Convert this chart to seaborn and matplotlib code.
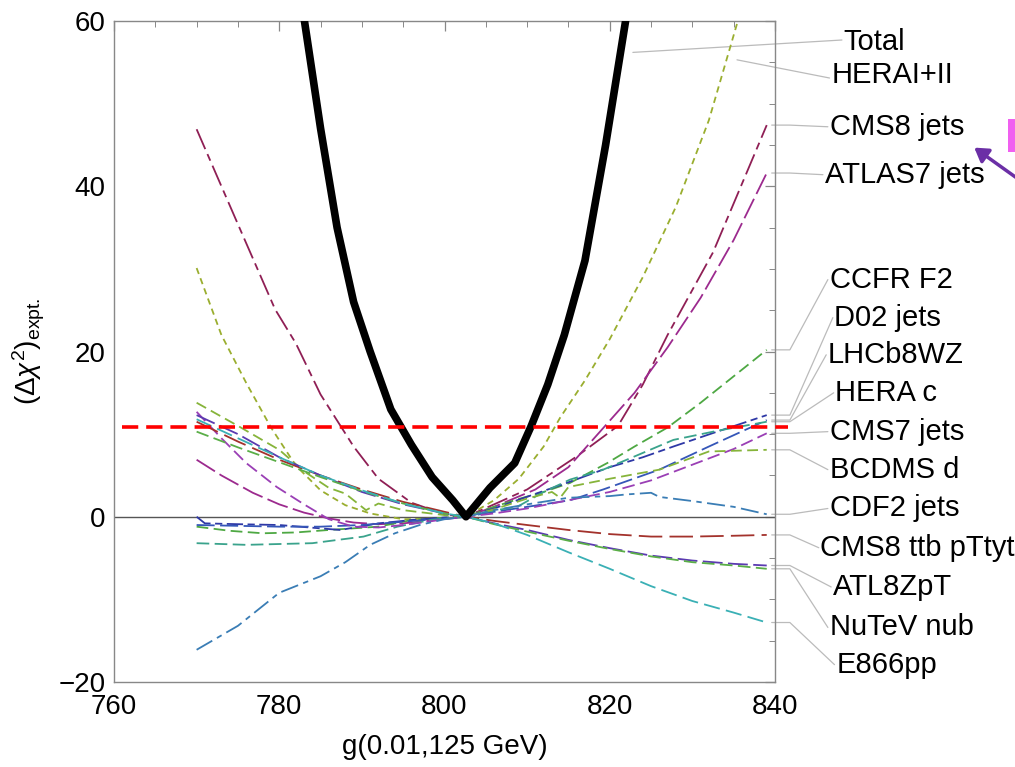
import numpy as np
import pandas as pd
import matplotlib
matplotlib.use("Agg")
import matplotlib.pyplot as plt
import seaborn as sns
from matplotlib.patches import FancyArrowPatch, Rectangle

# ---------------- data ----------------
total_g = [782.6, 785, 787, 789, 791, 793.5, 796, 798.5, 801, 802.6, 805.5, 808.5, 810.5, 812.5, 814.5, 817, 819.5, 822.4]
total_d = [63, 47, 35, 26, 20, 13, 8.7, 4.8, 2.0, 0, 3.5, 6.5, 11, 16, 22, 31, 45, 63]

herai_g = [770, 773, 776, 779, 782, 785, 788, 791, 795, 800, 802.6, 806, 809, 812, 814, 817, 820, 824, 828, 832, 835.5, 839]
herai_d = [30.1, 22, 16.2, 10.8, 6.2, 3.2, 1.4, 0.4, -0.3, -0.2, 0, 2.0, 4.6, 8.5, 12, 16.5, 21.5, 29, 37.5, 48, 60, 72]

cms8j_g = [770, 775, 779.5, 782, 785, 789, 792, 796, 800, 802.6, 806, 810, 816, 821, 824, 827, 832.5, 839]
cms8j_d = [46.9, 35.4, 25.1, 21, 14.8, 8.5, 4.6, 1.7, 0.3, 0, 1.5, 3.3, 7.3, 11, 16, 22, 32, 47.4]

atl7_g = [770, 773, 776.8, 780, 783, 786, 789, 792, 795, 798, 800, 802.6, 806, 811, 815, 819, 823, 827, 831, 835, 839]
atl7_d = [6.9, 5.0, 2.9, 1.5, 0.5, -0.2, -0.7, -0.9, -0.8, -0.5, -0.2, 0, 1.2, 3.3, 6.0, 10.5, 15, 20.5, 26.5, 33.5, 41.6]

ccfr_g = [770, 774, 778, 782, 786, 792, 796, 800, 802.6, 806, 808.8, 812, 815.2, 819.7, 823, 827, 831, 835, 839]
ccfr_d = [-1.2, -1.7, -2.0, -1.9, -1.6, -1.2, -0.4, -0.1, 0, 1.2, 2.1, 3.0, 4.1, 6.5, 8.5, 10.8, 13.8, 17, 20.2]

d02_g = [770, 771, 775, 780, 787.4, 792, 796, 800, 802.6, 806, 808.8, 814.8, 820, 824, 827.7, 833, 839]
d02_d = [0.0, -0.8, -0.9, -1.0, -1.6, -0.8, -0.4, -0.1, 0, 1.0, 2.0, 4.1, 6.0, 7.2, 8.5, 10.3, 12.3]

lhcb_g = [770, 775, 780, 785, 790, 795, 800, 802.6, 806, 810, 815.2, 819.2, 826, 832, 839]
lhcb_d = [-1.0, -1.1, -1.2, -1.2, -1.0, -0.6, -0.2, 0, 0.6, 1.2, 2.0, 3.3, 5.7, 8.5, 11.7]

herac_g = [770, 776, 784, 790.2, 794.3, 798.3, 802.6, 805, 808.8, 812, 815.2, 819.2, 823, 827.7, 833, 839]
herac_d = [-3.2, -3.4, -3.2, -2.4, -1.2, -0.4, 0, 0.6, 1.2, 3.0, 4.5, 5.7, 7.3, 9.3, 10.4, 11.5]

cms7_g = [770, 773, 776, 779.7, 783, 786, 789, 792, 795, 798, 800, 802.6, 806, 810, 815, 820, 825, 830, 835, 839]
cms7_d = [12.7, 9.5, 6.5, 3.6, 1.5, -0.3, -1.2, -1.3, -1.0, -0.6, -0.3, 0, 0.4, 1.0, 2.0, 3.0, 4.4, 6.3, 8.2, 10.1]

bcdms_g = [770, 775, 780, 783, 786, 788, 790.5, 792, 795, 800, 802.6, 806, 810, 813, 814, 815, 820, 826, 832, 839]
bcdms_d = [13.8, 11, 8.1, 5.5, 3.5, 2.8, 0.8, 1.6, 0.8, 0.2, 0, 0.9, 2.2, 3.0, 2.3, 3.6, 4.6, 5.7, 7.9, 8.1]

cdf2_g = [770, 775, 780, 785, 788, 791, 794, 797, 800, 802.6, 806, 810, 815, 820, 822, 825, 826, 830, 835, 839]
cdf2_d = [-16.1, -13.2, -9.2, -7.2, -5.5, -3.4, -2.0, -1.0, -0.3, 0, 0.8, 1.5, 2.3, 2.5, 2.7, 2.9, 2.4, 1.9, 1.2, 0.3]

cms8t_g = [770, 775, 780, 785, 790, 795, 800, 802.6, 806, 810, 815, 820, 825, 830, 835, 839]
cms8t_d = [11.5, 9.1, 6.9, 5.0, 3.3, 1.8, 0.6, 0, -0.5, -1.0, -1.6, -2.1, -2.4, -2.4, -2.3, -2.2]

atlz_g = [770, 775, 780, 785, 790, 795, 800, 802.6, 806, 810, 815, 820, 825, 830, 835, 839]
atlz_d = [12.3, 10.0, 7.2, 5.0, 3.0, 1.5, 0.4, 0, -0.8, -1.6, -2.8, -3.8, -4.7, -5.3, -5.7, -5.9]

nutev_g = [770, 775, 780, 785, 790, 795, 800, 802.6, 806, 810, 815, 820, 825, 830, 835, 839]
nutev_d = [10.3, 8.4, 6.6, 4.8, 3.1, 1.6, 0.4, 0, -0.9, -1.8, -2.9, -3.9, -4.8, -5.5, -5.9, -6.3]

e866_g = [770, 775, 780, 785, 790, 795, 800, 802.6, 806, 810, 815, 820, 825, 830, 835, 839]
e866_d = [11.8, 9.5, 7.2, 5.0, 3.2, 1.6, 0.4, 0, -0.8, -2.2, -4.3, -6.3, -8.4, -10.2, -11.6, -12.8]

labels = ["Total", "HERAI+II", "CMS8 jets", "ATLAS7 jets", "CCFR F2", "D02 jets", "LHCb8WZ",
          "HERA c", "CMS7 jets", "BCDMS d", "CDF2 jets", "CMS8 ttb pTtyt", "ATL8ZpT", "NuTeV nub", "E866pp"]
threshold = 10.9
x_ticks = [760, 780, 800, 820, 840]
y_ticks = [-20, 0, 20, 40, 60]

# ---------------- styles ----------------
series = [
    (total_g, total_d, "black", "-", 5.5),
    (herai_g, herai_d, "#9aae2f", (0, (3.5, 2.5)), 1.3),
    (cms8j_g, cms8j_d, "#8f1f55", (0, (12, 3, 4, 3)), 1.3),
    (atl7_g, atl7_d, "#9c2a8e", (0, (12, 3)), 1.3),
    (ccfr_g, ccfr_d, "#4ea843", (0, (6.5, 3)), 1.3),
    (d02_g, d02_d, "#2e38a6", (0, (9, 2.5, 4, 2.5)), 1.3),
    (lhcb_g, lhcb_d, "#3556b8", (0, (10, 3)), 1.3),
    (herac_g, herac_d, "#3aa38c", (0, (7, 3)), 1.3),
    (cms7_g, cms7_d, "#9a3fb5", (0, (7, 3)), 1.3),
    (bcdms_g, bcdms_d, "#86b43a", (0, (6, 3)), 1.3),
    (cdf2_g, cdf2_d, "#3a7db5", (0, (10, 3, 3, 3)), 1.3),
    (cms8t_g, cms8t_d, "#a3322c", (0, (13, 4)), 1.3),
    (atlz_g, atlz_d, "#5b3bb0", (0, (11, 3)), 1.3),
    (nutev_g, nutev_d, "#5aae47", (0, (7, 3)), 1.3),
    (e866_g, e866_d, "#3ab0b5", (0, (9, 3.5)), 1.3),
]

# label positions (data coordinates, outside the axes)
lab_x = [848.3, 846.8, 846.6, 846.0, 846.6, 847.2, 846.4, 847.3, 846.6, 846.6, 846.6, 845.5, 847.0, 846.6, 847.4]
lab_y = [57.5, 53.5, 47.2, 41.4, 28.7, 24.1, 19.6, 15.0, 10.3, 5.7, 1.0, -3.75, -8.5, -13.4, -17.9]

sns.set_theme(style="white")
plt.rcParams["font.family"] = ["Liberation Sans", "DejaVu Sans"]
plt.rcParams["mathtext.fontset"] = "custom"
plt.rcParams["mathtext.rm"] = "Liberation Sans"
plt.rcParams["mathtext.it"] = "Liberation Sans:italic"
plt.rcParams["text.color"] = "black"
plt.rcParams["axes.labelcolor"] = "black"

fig = plt.figure(figsize=(10.15, 7.67), dpi=100)
ax = fig.add_axes([114 / 1015, 1 - 682 / 767, (775 - 114) / 1015, (682 - 21) / 767])

ax.axhline(0, color="#555555", lw=1.0, zorder=1)

for i, (g, d, c, ls, lw) in enumerate(series):
    df = pd.DataFrame({"g": g, "d": d})
    sns.lineplot(data=df, x="g", y="d", color=c, linestyle=ls, lw=lw, ax=ax,
                 estimator=None, sort=False, zorder=5 if i == 0 else 3)

ax.plot([761, 841.6], [threshold, threshold], color="#ff0000", lw=2.6,
        linestyle=(0, (4.5, 2.2)), clip_on=False, zorder=6)

ax.set_xlim(760, 840)
ax.set_ylim(-20, 60)
ax.set_xticks(x_ticks)
ax.set_yticks(y_ticks)
ax.set_xticks(np.arange(760, 841, 5), minor=True)
ax.set_yticks(np.arange(-20, 61, 5), minor=True)
ax.tick_params(which="both", direction="in", top=True, right=True, color="#888888",
               labelsize=20, labelcolor="black")
ax.tick_params(axis="x", which="major", pad=9)
ax.tick_params(axis="y", which="major", pad=6)
ax.tick_params(which="major", length=7, width=0.9)
ax.tick_params(which="minor", length=4, width=0.7)
ax.set_yticklabels([f"{v}".replace("-", "\u2212") for v in y_ticks])
for s in ax.spines.values():
    s.set_color("#888888")
    s.set_linewidth(1.0)

ax.set_xlabel("g(0.01,125 GeV)", fontsize=20, labelpad=10, color="black")
ax.set_ylabel(r"$(\Delta\chi^2)_{\rm expt.}$", fontsize=20, labelpad=8, color="black")

# leader lines and labels
for i, (g, d, c, ls, lw) in enumerate(series):
    if i == 0:
        pts = [(822.8, 56.2), (lab_x[i] - 0.2, lab_y[i] + 0.2)]
    elif i == 1:
        pts = [(835.4, 55.3), (lab_x[i] - 0.2, lab_y[i] - 0.4)]
    else:
        yend = d[-1]
        pts = [(839.6, yend), (841.8, yend), (lab_x[i] - 0.2, lab_y[i])]
    xs, ys = zip(*pts)
    ax.plot(xs, ys, color="#bbbbbb", lw=0.9, clip_on=False, zorder=2)
    ax.text(lab_x[i], lab_y[i], labels[i], fontsize=21, ha="left", va="center",
            clip_on=False, color="black")

# slide overlay decorations
fig.add_artist(Rectangle((1008 / 1015, 1 - 152 / 767), 8 / 1015, 33 / 767,
                         transform=fig.transFigure, color="#f060f0", lw=0))
fig.add_artist(FancyArrowPatch((1.01, 1 - 184 / 767), (972 / 1015, 1 - 146 / 767),
                               transform=fig.transFigure, arrowstyle="-|>,head_length=8,head_width=5",
                               color="#6b2fa6", lw=2.5))

fig.savefig("out.png", dpi=100)
